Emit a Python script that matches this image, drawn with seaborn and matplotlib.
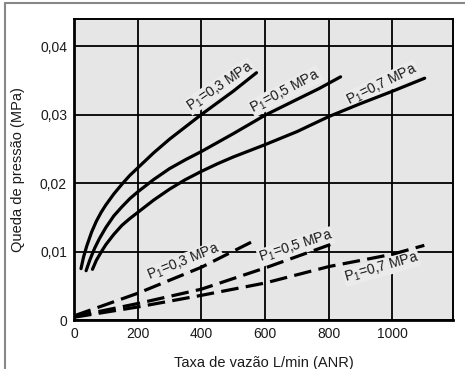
import matplotlib
matplotlib.use("Agg")
import matplotlib.pyplot as plt
import seaborn as sns
import pandas as pd
from matplotlib.patches import Rectangle

# Pressure drop vs flow rate, solid = one set, dashed = another, per inlet pressure P1
sol03_flow = [22, 30, 40, 55, 70, 85, 100, 125, 150, 175, 200, 250, 300, 350, 400, 450, 500, 573]
sol03_dp = [0.0075, 0.0092, 0.0108, 0.0128, 0.0144, 0.0157, 0.0168, 0.0184, 0.0198, 0.0211,
            0.0222, 0.0244, 0.0264, 0.0282, 0.0300, 0.0317, 0.0334, 0.0361]

sol05_flow = [38, 50, 65, 80, 100, 125, 150, 175, 200, 250, 300, 350, 400, 450, 500, 600, 700, 770, 837]
sol05_dp = [0.0072, 0.0088, 0.0105, 0.0119, 0.0135, 0.0152, 0.0165, 0.0177, 0.0187, 0.0205,
            0.0221, 0.0234, 0.0246, 0.0259, 0.0272, 0.0299, 0.0322, 0.0338, 0.0355]

sol07_flow = [58, 70, 85, 100, 125, 150, 175, 200, 250, 300, 350, 400, 450, 500, 600, 700, 800, 900, 1000, 1101]
sol07_dp = [0.0074, 0.0087, 0.0099, 0.0110, 0.0125, 0.0138, 0.0148, 0.0157, 0.0175, 0.0191,
            0.0205, 0.0217, 0.0228, 0.0238, 0.0256, 0.0275, 0.0297, 0.0316, 0.0334, 0.0353]

dash03_flow = [0, 200, 400, 575]
dash03_dp = [0.0006, 0.0039, 0.0077, 0.0118]

dash05_flow = [0, 200, 400, 600, 816]
dash05_dp = [0.0005, 0.0024, 0.0045, 0.0076, 0.0112]

dash07_flow = [0, 200, 400, 600, 800, 1000, 1100]
dash07_dp = [0.0004, 0.0019, 0.0036, 0.0054, 0.0078, 0.0096, 0.0109]

labels = ["P$_1$=0,3 MPa", "P$_1$=0,5 MPa", "P$_1$=0,7 MPa"]

x_ticks = [0, 200, 400, 600, 800, 1000]
y_ticks = [0, 0.01, 0.02, 0.03, 0.04]
y_ticklabels = ["0", "0,01", "0,02", "0,03", "0,04"]

series = [
    ("solid", labels[0], sol03_flow, sol03_dp),
    ("solid", labels[1], sol05_flow, sol05_dp),
    ("solid", labels[2], sol07_flow, sol07_dp),
    ("dashed", labels[0], dash03_flow, dash03_dp),
    ("dashed", labels[1], dash05_flow, dash05_dp),
    ("dashed", labels[2], dash07_flow, dash07_dp),
]
frames = []
for kind, lab, fx, fy in series:
    frames.append(pd.DataFrame({"flow": fx, "dp": fy, "kind": kind, "p1": lab}))
df = pd.concat(frames, ignore_index=True)

sns.set_theme(style="white")
plt.rcParams["font.family"] = ["Liberation Sans", "DejaVu Sans"]
plt.rcParams["mathtext.default"] = "regular"

fig = plt.figure(figsize=(4.65, 3.69), dpi=100)
ax = fig.add_axes([74 / 465, 1 - 320 / 369, (453 - 74) / 465, (320 - 19.3) / 369])
ax.set_facecolor("#e6e6e6")

for (kind, lab), g in df.groupby(["kind", "p1"], sort=False):
    sns.lineplot(data=g, x="flow", y="dp", ax=ax, color="black", lw=2.3,
                 sort=False, estimator=None, legend=False, zorder=3)
    line = ax.lines[-1]
    line.set_solid_capstyle("round")
    line.set_solid_joinstyle("round")
    if kind == "dashed":
        line.set_dashes([5.5, 2.3])

ax.set_xlim(0, 1190)
ax.set_ylim(0, 0.0439)
ax.set_xticks(x_ticks)
ax.set_xticklabels([str(v) for v in x_ticks])
ax.set_yticks(y_ticks)
ax.set_yticklabels(y_ticklabels)
ax.grid(True, color="black", lw=1.3)
ax.tick_params(axis="both", length=0, pad=5, labelsize=10, colors="#1a1a1a")
for side, sp in ax.spines.items():
    sp.set_visible(True)
    sp.set_color("black")
    sp.set_linewidth(2.0 if side in ("left", "bottom") else 1.4)

ax.set_xlabel("Taxa de vazão L/min (ANR)", fontsize=10.5, color="#1a1a1a", labelpad=11)
ax.set_ylabel("Queda de pressão (MPa)", fontsize=10.5, color="#1a1a1a", labelpad=11)

# curve labels, placed along each curve (boxes mask the grid, not the curves)
label_pos = [
    (458, 0.0341, 34, labels[0]),
    (664, 0.0334, 28, labels[1]),
    (967, 0.0344, 26, labels[2]),
    (345, 0.0084, 22, labels[0]),
    (696, 0.0107, 18, labels[1]),
    (965, 0.0076, 16, labels[2]),
]
for lx, ly, rot, txt in label_pos:
    ax.text(lx, ly, txt, rotation=rot, rotation_mode="anchor", ha="center",
            va="center", fontsize=10, color="#1a1a1a", zorder=2.5,
            bbox=dict(boxstyle="square,pad=0.05", fc="#ebebeb", ec="none"))

# outer frame of the figure
fig.patches.append(Rectangle((5 / 465, -0.1), 1.2, 1 - 3 / 369 + 0.1,
                             transform=fig.transFigure, fill=False,
                             ec="#888888", lw=1.5))

fig.savefig("out.png", dpi=100)
